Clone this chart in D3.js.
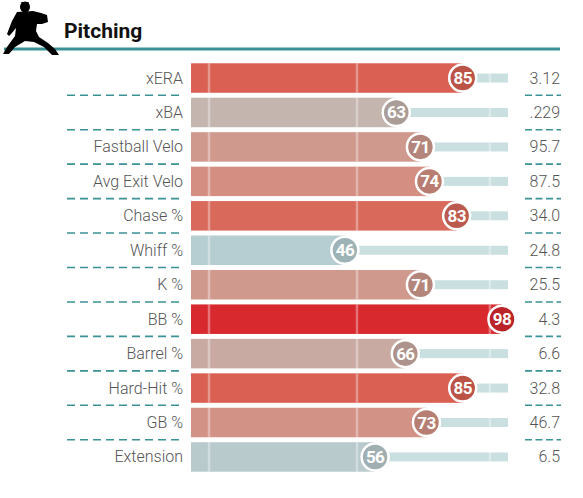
<!DOCTYPE html>
<html>
<head>
<meta http-equiv="content-type" content="text/html; charset=UTF8">
<script src="https://cdn.jsdelivr.net/npm/d3@7"></script>
<style>
body {
	margin: 0;
	background: #fff;
}
text {
	font-family: Roboto, "Noto Sans", sans-serif;
}
</style>
</head>
<body>
<svg class="chart" width="583" height="498"></svg>
</body>
<script>
// stat names, percentile ranks and raw values
var categories = ["xERA", "xBA", "Fastball Velo", "Avg Exit Velo", "Chase %", "Whiff %",
	"K %", "BB %", "Barrel %", "Hard-Hit %", "GB %", "Extension"];
var percentiles = [85, 63, 71, 74, 83, 46, 71, 98, 66, 85, 73, 56];
var values = ["3.12", ".229", "95.7", "87.5", "34.0", "24.8", "25.5", "4.3", "6.6", "32.8", "46.7", "6.5"];
var refTicks = [1, 50, 94];

var svg = d3.select(".chart");

var teal = "#3a9196",
	barLeft = 191,
	barH = 29.5;

var x = d3.scaleLinear().domain([0, 100]).range([206, 508]);
var y = d3.scaleBand().domain(categories).range([60.8, 474.2]);

var color = d3.scaleLinear()
	.domain([0, 45, 57, 64, 74, 86, 100])
	.range(["#3661ad", "#b6ced1", "#b9cacb", "#c6b1aa", "#d48f82", "#d95c4e", "#d82129"]);

// header
svg.append("line")
	.attr("x1", 4).attr("x2", 560)
	.attr("y1", 49).attr("y2", 49)
	.attr("stroke", teal)
	.attr("stroke-width", 3);

svg.append("text")
	.attr("x", 64)
	.attr("y", 38)
	.attr("font-size", 21)
	.attr("font-weight", "bold")
	.attr("fill", "#111")
	.text("Pitching");

// little pitcher figure
var icon = svg.append("g").attr("fill", "#000");
icon.append("ellipse").attr("cx", 25).attr("cy", 7).attr("rx", 5).attr("ry", 5.5);
icon.append("path").attr("d", "M20,2 L29,2 L27,5 Z");
icon.append("path")
	.attr("d", "M17,12 L33,11 L41,13 L47,15 L48,22 L42,24 L37,24 L36,31 L39,37 L48,43 L55,49 L59,55 L52,55 L44,47 L34,42 L25,41 L15,47 L9,54 L3,54 L7,47 L15,36 L16,28 L11,34 L9,36 L7,34 L12,21 Z");

var rows = svg.selectAll("g.row")
	.data(categories)
	.enter()
	.append("g")
	.attr("class", "row")
	.attr("transform", function(d) { return "translate(0," + (y(d) + y.bandwidth() / 2) + ")"; });

// light track behind
rows.append("rect")
	.attr("x", function(d, i) { return x(percentiles[i]); })
	.attr("y", -4.5)
	.attr("width", function(d, i) { return x(100) - x(percentiles[i]); })
	.attr("height", 9)
	.attr("fill", "#c9dfe0");

// coloured bar
rows.append("rect")
	.attr("x", barLeft)
	.attr("y", -barH / 2)
	.attr("width", function(d, i) { return x(percentiles[i]) - barLeft; })
	.attr("height", barH)
	.attr("fill", function(d, i) { return color(percentiles[i]); });

// faint reference lines
refTicks.forEach(function(t) {
	rows.append("line")
		.attr("x1", x(t)).attr("x2", x(t))
		.attr("y1", -barH / 2).attr("y2", barH / 2)
		.attr("stroke", "#fff")
		.attr("stroke-opacity", 0.35)
		.attr("stroke-width", 2.5);
});

rows.append("circle")
	.attr("cx", function(d, i) { return x(percentiles[i]); })
	.attr("r", 13.5)
	.attr("fill", function(d, i) { return d3.color(color(percentiles[i])).darker(0.4); })
	.attr("stroke", "#fff")
	.attr("stroke-width", 2.5);

rows.append("text")
	.attr("x", function(d, i) { return x(percentiles[i]); })
	.attr("y", 6)
	.attr("text-anchor", "middle")
	.attr("font-size", 17)
	.attr("font-weight", "bold")
	.attr("letter-spacing", -0.6)
	.attr("fill", "#fff")
	.text(function(d, i) { return percentiles[i]; });

rows.append("text")
	.attr("x", 183)
	.attr("y", 5.5)
	.attr("text-anchor", "end")
	.attr("font-size", 16)
	.attr("font-weight", 300)
	.attr("fill", "#555")
	.text(function(d) { return d; });

rows.append("text")
	.attr("x", 560)
	.attr("y", 5.5)
	.attr("text-anchor", "end")
	.attr("font-size", 16)
	.attr("font-weight", 300)
	.attr("fill", "#555")
	.text(function(d, i) { return values[i]; });

// dashed separators
var seps = rows.filter(function(d, i) { return i < categories.length - 1; });
seps.append("line")
	.attr("x1", 67).attr("x2", 183)
	.attr("y1", y.bandwidth() / 2).attr("y2", y.bandwidth() / 2)
	.attr("stroke", teal)
	.attr("stroke-width", 1.6)
	.attr("stroke-dasharray", "8,5");
seps.append("line")
	.attr("x1", 525).attr("x2", 561)
	.attr("y1", y.bandwidth() / 2).attr("y2", y.bandwidth() / 2)
	.attr("stroke", teal)
	.attr("stroke-width", 1.6)
	.attr("stroke-dasharray", "7,3.5");
</script>
</html>
